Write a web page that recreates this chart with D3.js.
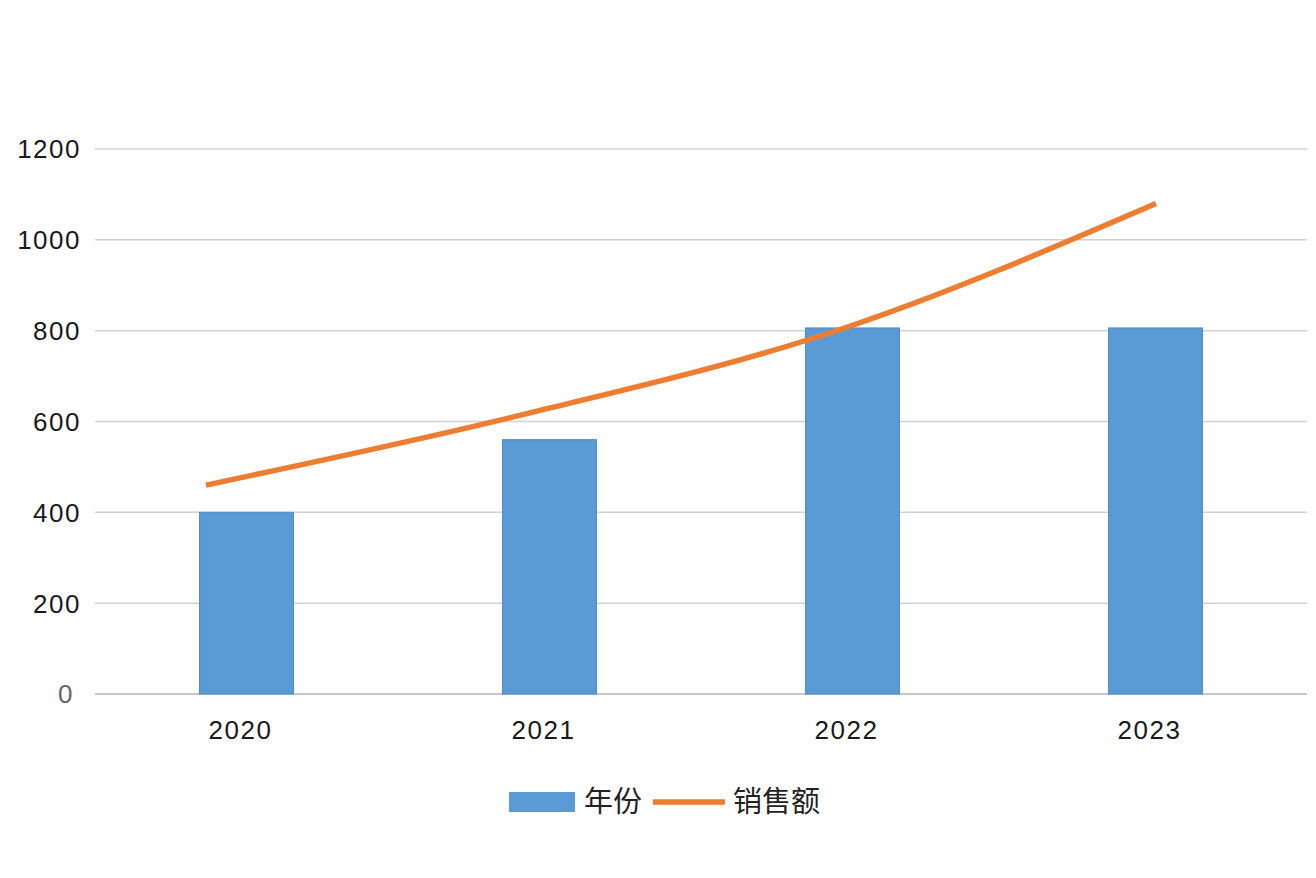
<!DOCTYPE html>
<html>
<head>
<meta charset="utf-8">
<script src="https://cdn.jsdelivr.net/npm/d3@7/dist/d3.min.js"></script>
<style>
  html, body { margin: 0; padding: 0; background: #fff; }
  svg { display: block; }
</style>
</head>
<body>
<svg id="chart" width="1316" height="878"></svg>
<script>
const categories = ["2020", "2021", "2022", "2023"];
const barValues = [400, 560, 806, 806];      // 年份
const lineValues = [460, 615, 802, 1080];    // 销售额
const yTicks = [0, 200, 400, 600, 800, 1000, 1200];
const seriesNames = ["年份", "销售额"];

const svg = d3.select("#chart");
const plotLeft = 95, plotRight = 1307, plotTop = 149, plotBottom = 694;

const x = d3.scaleBand().domain(categories).range([plotLeft, plotRight])
  .paddingInner(0.69).paddingOuter(0.345);
const xLine = d3.scalePoint().domain(categories).range([206, 1156]);
const y = d3.scaleLinear().domain([0, 1200]).range([plotBottom, plotTop]);

// gridlines
svg.append("g").selectAll("line").data(yTicks).join("line")
  .attr("x1", plotLeft).attr("x2", plotRight)
  .attr("y1", d => y(d)).attr("y2", d => y(d))
  .attr("stroke", d => d === 0 ? "#c8c8c8" : "#d2d2d2")
  .attr("stroke-width", d => d === 0 ? 2 : 1.5);

// y labels
svg.append("g").selectAll("text").data(yTicks).join("text")
  .attr("x", d => d === 0 ? 74 : 81).attr("y", d => y(d))
  .attr("dy", "0.36em")
  .attr("text-anchor", "end")
  .attr("font-family", "Liberation Sans, Arial, sans-serif")
  .attr("font-size", 26)
  .attr("letter-spacing", 1.5)
  .attr("fill", d => d === 0 ? "#666" : "#1a1a1a")
  .text(d => d);

// bars
svg.append("g").selectAll("rect").data(categories).join("rect")
  .attr("x", d => x(d))
  .attr("y", (d, i) => y(barValues[i]))
  .attr("width", x.bandwidth())
  .attr("height", (d, i) => y(0) - y(barValues[i]))
  .attr("fill", "#5b9bd5")
  .attr("stroke", "#4f8bc4")
  .attr("stroke-width", 1);

// line
const line = d3.line()
  .x((d, i) => xLine(categories[i]))
  .y(d => y(d))
  .curve(d3.curveMonotoneX);
svg.append("path").datum(lineValues)
  .attr("d", line)
  .attr("fill", "none")
  .attr("stroke", "#ed7d31")
  .attr("stroke-width", 5.5)
  .attr("stroke-linecap", "butt");

// x labels
svg.append("g").selectAll("text").data(categories).join("text")
  .attr("x", d => x(d) + x.bandwidth() / 2 - 6)
  .attr("y", 739)
  .attr("text-anchor", "middle")
  .attr("font-family", "Liberation Sans, Arial, sans-serif")
  .attr("font-size", 26)
  .attr("letter-spacing", 1.5)
  .attr("fill", "#1a1a1a")
  .text(d => d);

// legend
const lg = svg.append("g");
lg.append("rect").attr("x", 509).attr("y", 792).attr("width", 66).attr("height", 20)
  .attr("fill", "#5b9bd5");
lg.append("text").attr("x", 584).attr("y", 812)
  .attr("font-family", "Noto Sans CJK SC, sans-serif").attr("font-size", 29)
  .attr("fill", "#222").text(seriesNames[0]);
lg.append("line").attr("x1", 653).attr("x2", 725).attr("y1", 802).attr("y2", 802)
  .attr("stroke", "#ed7d31").attr("stroke-width", 5.5);
lg.append("text").attr("x", 733).attr("y", 812)
  .attr("font-family", "Noto Sans CJK SC, sans-serif").attr("font-size", 29)
  .attr("fill", "#222").text(seriesNames[1]);
</script>
</body>
</html>
